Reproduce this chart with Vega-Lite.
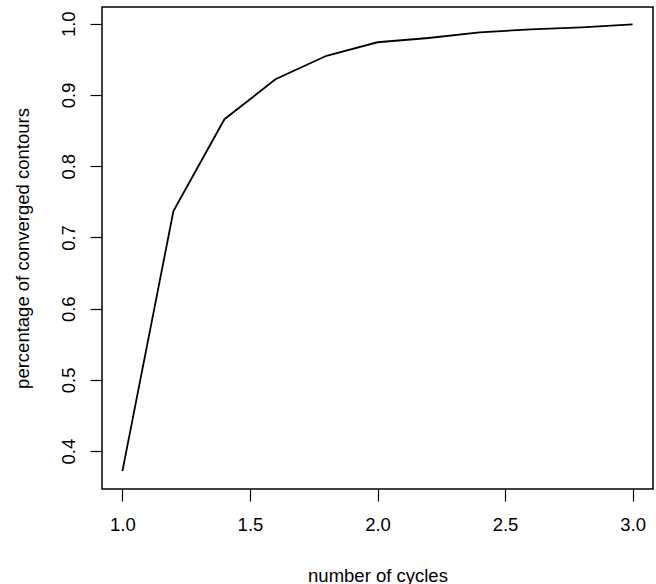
{
  "$schema": "https://vega.github.io/schema/vega-lite/v6.json",
  "width": 551,
  "height": 482,
  "autosize": {"type": "none"},
  "padding": {"left": 102, "top": 7, "right": 3, "bottom": 95},
  "background": "white",
  "config": {
    "view": {"stroke": "black", "strokeWidth": 1.5},
    "font": "Liberation Sans",
    "axis": {
      "domain": false,
      "grid": false,
      "tickColor": "black",
      "tickSize": 12,
      "tickWidth": 1.2,
      "labelColor": "black",
      "labelFont": "Liberation Sans",
      "labelFontSize": 18.5,
      "titleFont": "Liberation Sans",
      "titleFontSize": 18.5,
      "titleFontWeight": "normal",
      "titleColor": "black"
    }
  },
  "data": {
    "values": [
      {"cycles": 1.0, "pct": 0.372},
      {"cycles": 1.2, "pct": 0.737},
      {"cycles": 1.4, "pct": 0.866},
      {"cycles": 1.6, "pct": 0.922},
      {"cycles": 1.8, "pct": 0.955},
      {"cycles": 2.0, "pct": 0.974},
      {"cycles": 2.2, "pct": 0.980},
      {"cycles": 2.4, "pct": 0.988},
      {"cycles": 2.6, "pct": 0.992},
      {"cycles": 2.8, "pct": 0.995},
      {"cycles": 3.0, "pct": 0.999}
    ]
  },
  "mark": {"type": "line", "color": "black", "strokeWidth": 1.8},
  "encoding": {
    "x": {
      "field": "cycles",
      "type": "quantitative",
      "scale": {"domain": [0.92, 3.08], "nice": false, "zero": false},
      "axis": {
        "title": "number of cycles",
        "values": [1.0, 1.5, 2.0, 2.5, 3.0],
        "format": ".1f",
        "labelBaseline": "alphabetic",
        "labelPadding": 29,
        "labelFlush": false,
        "titleBaseline": "alphabetic",
        "titleY": 92
      }
    },
    "y": {
      "field": "pct",
      "type": "quantitative",
      "scale": {"domain": [0.3469, 1.0235], "nice": false, "zero": false},
      "axis": {
        "title": "percentage of converged contours",
        "values": [0.4, 0.5, 0.6, 0.7, 0.8, 0.9, 1.0],
        "format": ".1f",
        "labelAngle": -90,
        "labelAlign": "center",
        "labelBaseline": "alphabetic",
        "labelPadding": 16,
        "labelFlush": false,
        "titleAngle": -90,
        "titleBaseline": "alphabetic",
        "titleAlign": "center",
        "titleX": -74
      }
    }
  }
}
